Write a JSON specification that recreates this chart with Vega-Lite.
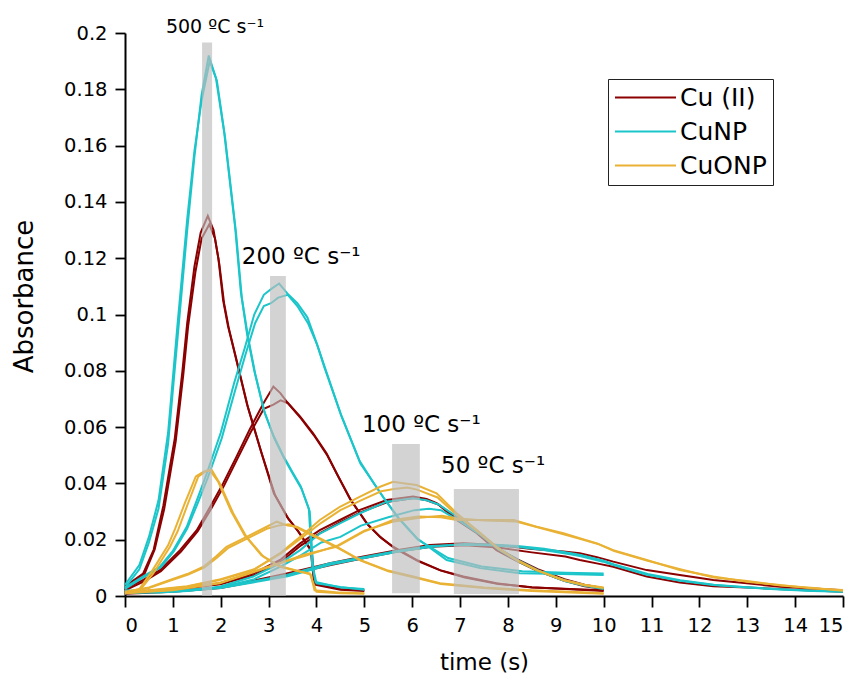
{
"$schema":"https://vega.github.io/schema/vega-lite/v6.json",
"width":718,"height":563,
"autosize":{"type":"none"},
"padding":{"left":125,"top":33,"right":15,"bottom":82},
"background":"white",
"config":{"view":{"stroke":null},"font":"DejaVu Sans",
 "axis":{"grid":false,"domainColor":"black","domainWidth":2,"tickColor":"black","tickWidth":1.8,"labelColor":"black","labelFont":"DejaVu Sans","labelFontSize":19.5,"titleFont":"DejaVu Sans","titleFontSize":23,"titleFontWeight":"normal","titleColor":"black","labelOverlap":false}},
"datasets":{
"bars":[{"x0":1.61,"x1":1.82,"y0":0,"y1":0.1966},{"x0":3.03,"x1":3.36,"y0":0,"y1":0.1137},{"x0":5.58,"x1":6.16,"y0":0.001,"y1":0.054},{"x0":6.87,"x1":8.23,"y0":0.0007,"y1":0.038}],
"big":[{"label":"200 ºC s⁻¹","t":3.68,"a":0.1204},{"label":"100 ºC s⁻¹","t":6.19,"a":0.0607},{"label":"50 ºC s⁻¹","t":7.69,"a":0.0462}],
"small":[{"label":"500 ºC s⁻¹","t":1.88,"a":0.2021}],
"curves":[
{"material":"Cu (II)","run":"C500a","t":0,"a":0.003},{"material":"Cu (II)","run":"C500a","t":0.1,"a":0.0046},{"material":"Cu (II)","run":"C500a","t":0.38,"a":0.008},{"material":"Cu (II)","run":"C500a","t":0.6,"a":0.0165},{"material":"Cu (II)","run":"C500a","t":0.8,"a":0.032},{"material":"Cu (II)","run":"C500a","t":0.94,"a":0.046},{"material":"Cu (II)","run":"C500a","t":1.04,"a":0.056},{"material":"Cu (II)","run":"C500a","t":1.2,"a":0.08},{"material":"Cu (II)","run":"C500a","t":1.3,"a":0.097},{"material":"Cu (II)","run":"C500a","t":1.45,"a":0.117},{"material":"Cu (II)","run":"C500a","t":1.58,"a":0.129},{"material":"Cu (II)","run":"C500a","t":1.73,"a":0.135},{"material":"Cu (II)","run":"C500a","t":1.85,"a":0.13},{"material":"Cu (II)","run":"C500a","t":1.95,"a":0.12},{"material":"Cu (II)","run":"C500a","t":2.05,"a":0.105},{"material":"Cu (II)","run":"C500a","t":2.15,"a":0.096},{"material":"Cu (II)","run":"C500a","t":2.28,"a":0.087},{"material":"Cu (II)","run":"C500a","t":2.55,"a":0.068},{"material":"Cu (II)","run":"C500a","t":2.83,"a":0.052},{"material":"Cu (II)","run":"C500a","t":3.11,"a":0.0365},{"material":"Cu (II)","run":"C500a","t":3.39,"a":0.028},{"material":"Cu (II)","run":"C500a","t":3.6,"a":0.0234},{"material":"Cu (II)","run":"C500a","t":3.88,"a":0.0163},{"material":"Cu (II)","run":"C500a","t":3.95,"a":0.0045},{"material":"Cu (II)","run":"C500a","t":4.5,"a":0.0025},{"material":"Cu (II)","run":"C500a","t":5,"a":0.002},
{"material":"Cu (II)","run":"C500b","t":0,"a":0.002},{"material":"Cu (II)","run":"C500b","t":0.1,"a":0.0038},{"material":"Cu (II)","run":"C500b","t":0.4,"a":0.0075},{"material":"Cu (II)","run":"C500b","t":0.62,"a":0.0165},{"material":"Cu (II)","run":"C500b","t":0.82,"a":0.031},{"material":"Cu (II)","run":"C500b","t":0.96,"a":0.045},{"material":"Cu (II)","run":"C500b","t":1.06,"a":0.055},{"material":"Cu (II)","run":"C500b","t":1.22,"a":0.079},{"material":"Cu (II)","run":"C500b","t":1.32,"a":0.096},{"material":"Cu (II)","run":"C500b","t":1.47,"a":0.115},{"material":"Cu (II)","run":"C500b","t":1.6,"a":0.127},{"material":"Cu (II)","run":"C500b","t":1.76,"a":0.132},{"material":"Cu (II)","run":"C500b","t":1.88,"a":0.127},{"material":"Cu (II)","run":"C500b","t":1.97,"a":0.118},{"material":"Cu (II)","run":"C500b","t":2.07,"a":0.104},{"material":"Cu (II)","run":"C500b","t":2.17,"a":0.095},{"material":"Cu (II)","run":"C500b","t":2.3,"a":0.086},{"material":"Cu (II)","run":"C500b","t":2.57,"a":0.067},{"material":"Cu (II)","run":"C500b","t":2.85,"a":0.051},{"material":"Cu (II)","run":"C500b","t":3.13,"a":0.036},{"material":"Cu (II)","run":"C500b","t":3.41,"a":0.0275},{"material":"Cu (II)","run":"C500b","t":3.62,"a":0.023},{"material":"Cu (II)","run":"C500b","t":3.9,"a":0.016},{"material":"Cu (II)","run":"C500b","t":3.97,"a":0.004},{"material":"Cu (II)","run":"C500b","t":4.5,"a":0.0022},{"material":"Cu (II)","run":"C500b","t":5,"a":0.0018},
{"material":"Cu (II)","run":"C200a","t":0,"a":0.0025},{"material":"Cu (II)","run":"C200a","t":0.38,"a":0.0057},{"material":"Cu (II)","run":"C200a","t":0.73,"a":0.0092},{"material":"Cu (II)","run":"C200a","t":1.15,"a":0.0163},{"material":"Cu (II)","run":"C200a","t":1.5,"a":0.0234},{"material":"Cu (II)","run":"C200a","t":1.78,"a":0.0317},{"material":"Cu (II)","run":"C200a","t":2.05,"a":0.04},{"material":"Cu (II)","run":"C200a","t":2.33,"a":0.0495},{"material":"Cu (II)","run":"C200a","t":2.6,"a":0.059},{"material":"Cu (II)","run":"C200a","t":2.89,"a":0.0684},{"material":"Cu (II)","run":"C200a","t":3.1,"a":0.0744},{"material":"Cu (II)","run":"C200a","t":3.25,"a":0.072},{"material":"Cu (II)","run":"C200a","t":3.38,"a":0.069},{"material":"Cu (II)","run":"C200a","t":3.66,"a":0.0637},{"material":"Cu (II)","run":"C200a","t":3.93,"a":0.0578},{"material":"Cu (II)","run":"C200a","t":4.21,"a":0.0507},{"material":"Cu (II)","run":"C200a","t":4.42,"a":0.0436},{"material":"Cu (II)","run":"C200a","t":4.7,"a":0.0345},{"material":"Cu (II)","run":"C200a","t":5.05,"a":0.0258},{"material":"Cu (II)","run":"C200a","t":5.33,"a":0.021},{"material":"Cu (II)","run":"C200a","t":5.6,"a":0.0175},{"material":"Cu (II)","run":"C200a","t":6.09,"a":0.0128},{"material":"Cu (II)","run":"C200a","t":6.58,"a":0.0092},{"material":"Cu (II)","run":"C200a","t":7.07,"a":0.0069},{"material":"Cu (II)","run":"C200a","t":7.76,"a":0.0045},{"material":"Cu (II)","run":"C200a","t":8.5,"a":0.003},{"material":"Cu (II)","run":"C200a","t":9.3,"a":0.0025},{"material":"Cu (II)","run":"C200a","t":10,"a":0.002},
{"material":"Cu (II)","run":"C200b","t":0,"a":0.002},{"material":"Cu (II)","run":"C200b","t":0.4,"a":0.0052},{"material":"Cu (II)","run":"C200b","t":0.75,"a":0.0088},{"material":"Cu (II)","run":"C200b","t":1.17,"a":0.0158},{"material":"Cu (II)","run":"C200b","t":1.52,"a":0.023},{"material":"Cu (II)","run":"C200b","t":1.8,"a":0.031},{"material":"Cu (II)","run":"C200b","t":2.07,"a":0.0392},{"material":"Cu (II)","run":"C200b","t":2.35,"a":0.0488},{"material":"Cu (II)","run":"C200b","t":2.62,"a":0.058},{"material":"Cu (II)","run":"C200b","t":2.9,"a":0.0665},{"material":"Cu (II)","run":"C200b","t":3.1,"a":0.068},{"material":"Cu (II)","run":"C200b","t":3.25,"a":0.0695},{"material":"Cu (II)","run":"C200b","t":3.4,"a":0.0685},{"material":"Cu (II)","run":"C200b","t":3.68,"a":0.063},{"material":"Cu (II)","run":"C200b","t":3.95,"a":0.057},{"material":"Cu (II)","run":"C200b","t":4.23,"a":0.0498},{"material":"Cu (II)","run":"C200b","t":4.45,"a":0.0426},{"material":"Cu (II)","run":"C200b","t":4.73,"a":0.0338},{"material":"Cu (II)","run":"C200b","t":5.08,"a":0.0252},{"material":"Cu (II)","run":"C200b","t":5.36,"a":0.0205},{"material":"Cu (II)","run":"C200b","t":5.63,"a":0.017},{"material":"Cu (II)","run":"C200b","t":6.12,"a":0.0124},{"material":"Cu (II)","run":"C200b","t":6.6,"a":0.009},{"material":"Cu (II)","run":"C200b","t":7.1,"a":0.0066},{"material":"Cu (II)","run":"C200b","t":7.8,"a":0.0043},{"material":"Cu (II)","run":"C200b","t":8.5,"a":0.0031},{"material":"Cu (II)","run":"C200b","t":9.3,"a":0.0024},{"material":"Cu (II)","run":"C200b","t":10,"a":0.0018},
{"material":"Cu (II)","run":"C100a","t":0,"a":0.0015},{"material":"Cu (II)","run":"C100a","t":0.7,"a":0.002},{"material":"Cu (II)","run":"C100a","t":1.3,"a":0.003},{"material":"Cu (II)","run":"C100a","t":1.98,"a":0.0045},{"material":"Cu (II)","run":"C100a","t":2.68,"a":0.008},{"material":"Cu (II)","run":"C100a","t":3.24,"a":0.0128},{"material":"Cu (II)","run":"C100a","t":3.66,"a":0.0187},{"material":"Cu (II)","run":"C100a","t":4.07,"a":0.0234},{"material":"Cu (II)","run":"C100a","t":4.49,"a":0.027},{"material":"Cu (II)","run":"C100a","t":4.91,"a":0.0306},{"material":"Cu (II)","run":"C100a","t":5.47,"a":0.0341},{"material":"Cu (II)","run":"C100a","t":6.02,"a":0.0353},{"material":"Cu (II)","run":"C100a","t":6.3,"a":0.0345},{"material":"Cu (II)","run":"C100a","t":6.51,"a":0.033},{"material":"Cu (II)","run":"C100a","t":6.93,"a":0.027},{"material":"Cu (II)","run":"C100a","t":7.35,"a":0.0223},{"material":"Cu (II)","run":"C100a","t":7.76,"a":0.0163},{"material":"Cu (II)","run":"C100a","t":8.18,"a":0.0125},{"material":"Cu (II)","run":"C100a","t":8.6,"a":0.009},{"material":"Cu (II)","run":"C100a","t":9.16,"a":0.0055},{"material":"Cu (II)","run":"C100a","t":9.6,"a":0.0035},{"material":"Cu (II)","run":"C100a","t":10,"a":0.0025},
{"material":"Cu (II)","run":"C100b","t":0,"a":0.001},{"material":"Cu (II)","run":"C100b","t":0.7,"a":0.0018},{"material":"Cu (II)","run":"C100b","t":1.3,"a":0.0028},{"material":"Cu (II)","run":"C100b","t":2,"a":0.0042},{"material":"Cu (II)","run":"C100b","t":2.7,"a":0.0075},{"material":"Cu (II)","run":"C100b","t":3.26,"a":0.0122},{"material":"Cu (II)","run":"C100b","t":3.68,"a":0.018},{"material":"Cu (II)","run":"C100b","t":4.1,"a":0.0226},{"material":"Cu (II)","run":"C100b","t":4.5,"a":0.0262},{"material":"Cu (II)","run":"C100b","t":4.93,"a":0.0298},{"material":"Cu (II)","run":"C100b","t":5.5,"a":0.0335},{"material":"Cu (II)","run":"C100b","t":6.05,"a":0.0348},{"material":"Cu (II)","run":"C100b","t":6.3,"a":0.034},{"material":"Cu (II)","run":"C100b","t":6.55,"a":0.0325},{"material":"Cu (II)","run":"C100b","t":6.95,"a":0.0275},{"material":"Cu (II)","run":"C100b","t":7.37,"a":0.0228},{"material":"Cu (II)","run":"C100b","t":7.78,"a":0.017},{"material":"Cu (II)","run":"C100b","t":8.2,"a":0.013},{"material":"Cu (II)","run":"C100b","t":8.62,"a":0.0095},{"material":"Cu (II)","run":"C100b","t":9.18,"a":0.006},{"material":"Cu (II)","run":"C100b","t":9.6,"a":0.004},{"material":"Cu (II)","run":"C100b","t":10,"a":0.0028},
{"material":"Cu (II)","run":"C50a","t":0,"a":0.001},{"material":"Cu (II)","run":"C50a","t":1,"a":0.0018},{"material":"Cu (II)","run":"C50a","t":2,"a":0.003},{"material":"Cu (II)","run":"C50a","t":3.38,"a":0.008},{"material":"Cu (II)","run":"C50a","t":4.28,"a":0.0116},{"material":"Cu (II)","run":"C50a","t":4.98,"a":0.014},{"material":"Cu (II)","run":"C50a","t":5.68,"a":0.0163},{"material":"Cu (II)","run":"C50a","t":6.37,"a":0.0181},{"material":"Cu (II)","run":"C50a","t":7.07,"a":0.0187},{"material":"Cu (II)","run":"C50a","t":7.76,"a":0.0181},{"material":"Cu (II)","run":"C50a","t":8.46,"a":0.0168},{"material":"Cu (II)","run":"C50a","t":9.16,"a":0.0158},{"material":"Cu (II)","run":"C50a","t":9.5,"a":0.0152},{"material":"Cu (II)","run":"C50a","t":9.86,"a":0.0138},{"material":"Cu (II)","run":"C50a","t":10.2,"a":0.0122},{"material":"Cu (II)","run":"C50a","t":10.9,"a":0.0092},{"material":"Cu (II)","run":"C50a","t":11.59,"a":0.0075},{"material":"Cu (II)","run":"C50a","t":12.29,"a":0.0057},{"material":"Cu (II)","run":"C50a","t":12.99,"a":0.0045},{"material":"Cu (II)","run":"C50a","t":13.68,"a":0.0033},{"material":"Cu (II)","run":"C50a","t":14.38,"a":0.0027},{"material":"Cu (II)","run":"C50a","t":15,"a":0.002},
{"material":"Cu (II)","run":"C50b","t":0,"a":0.0008},{"material":"Cu (II)","run":"C50b","t":1,"a":0.0015},{"material":"Cu (II)","run":"C50b","t":2,"a":0.0028},{"material":"Cu (II)","run":"C50b","t":3.4,"a":0.0075},{"material":"Cu (II)","run":"C50b","t":4.3,"a":0.011},{"material":"Cu (II)","run":"C50b","t":5,"a":0.0135},{"material":"Cu (II)","run":"C50b","t":5.7,"a":0.0158},{"material":"Cu (II)","run":"C50b","t":6.4,"a":0.0175},{"material":"Cu (II)","run":"C50b","t":7.1,"a":0.018},{"material":"Cu (II)","run":"C50b","t":7.8,"a":0.0172},{"material":"Cu (II)","run":"C50b","t":8.5,"a":0.0155},{"material":"Cu (II)","run":"C50b","t":9.2,"a":0.014},{"material":"Cu (II)","run":"C50b","t":9.5,"a":0.0128},{"material":"Cu (II)","run":"C50b","t":9.88,"a":0.0115},{"material":"Cu (II)","run":"C50b","t":10.2,"a":0.0104},{"material":"Cu (II)","run":"C50b","t":10.9,"a":0.0069},{"material":"Cu (II)","run":"C50b","t":11.59,"a":0.0048},{"material":"Cu (II)","run":"C50b","t":12.29,"a":0.0035},{"material":"Cu (II)","run":"C50b","t":13,"a":0.003},{"material":"Cu (II)","run":"C50b","t":14,"a":0.0022},{"material":"Cu (II)","run":"C50b","t":15,"a":0.0015},
{"material":"CuNP","run":"N500a","t":0,"a":0.003},{"material":"CuNP","run":"N500a","t":0.3,"a":0.0095},{"material":"CuNP","run":"N500a","t":0.5,"a":0.019},{"material":"CuNP","run":"N500a","t":0.7,"a":0.031},{"material":"CuNP","run":"N500a","t":0.9,"a":0.054},{"material":"CuNP","run":"N500a","t":1.1,"a":0.092},{"material":"CuNP","run":"N500a","t":1.3,"a":0.13},{"material":"CuNP","run":"N500a","t":1.45,"a":0.156},{"material":"CuNP","run":"N500a","t":1.6,"a":0.178},{"material":"CuNP","run":"N500a","t":1.75,"a":0.192},{"material":"CuNP","run":"N500a","t":1.9,"a":0.184},{"material":"CuNP","run":"N500a","t":2.07,"a":0.165},{"material":"CuNP","run":"N500a","t":2.3,"a":0.131},{"material":"CuNP","run":"N500a","t":2.42,"a":0.108},{"material":"CuNP","run":"N500a","t":2.55,"a":0.093},{"material":"CuNP","run":"N500a","t":2.7,"a":0.08},{"material":"CuNP","run":"N500a","t":2.9,"a":0.066},{"material":"CuNP","run":"N500a","t":3.1,"a":0.057},{"material":"CuNP","run":"N500a","t":3.3,"a":0.05},{"material":"CuNP","run":"N500a","t":3.5,"a":0.044},{"material":"CuNP","run":"N500a","t":3.67,"a":0.039},{"material":"CuNP","run":"N500a","t":3.84,"a":0.031},{"material":"CuNP","run":"N500a","t":3.91,"a":0.011},{"material":"CuNP","run":"N500a","t":3.98,"a":0.005},{"material":"CuNP","run":"N500a","t":4.5,"a":0.003},{"material":"CuNP","run":"N500a","t":5,"a":0.0025},
{"material":"CuNP","run":"N500b","t":0,"a":0.004},{"material":"CuNP","run":"N500b","t":0.3,"a":0.011},{"material":"CuNP","run":"N500b","t":0.5,"a":0.021},{"material":"CuNP","run":"N500b","t":0.7,"a":0.034},{"material":"CuNP","run":"N500b","t":0.9,"a":0.058},{"material":"CuNP","run":"N500b","t":1.1,"a":0.097},{"material":"CuNP","run":"N500b","t":1.3,"a":0.134},{"material":"CuNP","run":"N500b","t":1.45,"a":0.158},{"material":"CuNP","run":"N500b","t":1.6,"a":0.176},{"material":"CuNP","run":"N500b","t":1.77,"a":0.19},{"material":"CuNP","run":"N500b","t":1.92,"a":0.183},{"material":"CuNP","run":"N500b","t":2.09,"a":0.163},{"material":"CuNP","run":"N500b","t":2.32,"a":0.129},{"material":"CuNP","run":"N500b","t":2.44,"a":0.106},{"material":"CuNP","run":"N500b","t":2.57,"a":0.092},{"material":"CuNP","run":"N500b","t":2.72,"a":0.079},{"material":"CuNP","run":"N500b","t":2.92,"a":0.065},{"material":"CuNP","run":"N500b","t":3.12,"a":0.056},{"material":"CuNP","run":"N500b","t":3.32,"a":0.049},{"material":"CuNP","run":"N500b","t":3.52,"a":0.043},{"material":"CuNP","run":"N500b","t":3.69,"a":0.038},{"material":"CuNP","run":"N500b","t":3.86,"a":0.03},{"material":"CuNP","run":"N500b","t":3.93,"a":0.01},{"material":"CuNP","run":"N500b","t":4,"a":0.0045},{"material":"CuNP","run":"N500b","t":4.5,"a":0.0032},{"material":"CuNP","run":"N500b","t":5,"a":0.0022},
{"material":"CuNP","run":"N200a","t":0,"a":0.003},{"material":"CuNP","run":"N200a","t":0.38,"a":0.007},{"material":"CuNP","run":"N200a","t":0.73,"a":0.0104},{"material":"CuNP","run":"N200a","t":1,"a":0.016},{"material":"CuNP","run":"N200a","t":1.29,"a":0.0246},{"material":"CuNP","run":"N200a","t":1.5,"a":0.034},{"material":"CuNP","run":"N200a","t":1.71,"a":0.0436},{"material":"CuNP","run":"N200a","t":2,"a":0.058},{"material":"CuNP","run":"N200a","t":2.28,"a":0.0757},{"material":"CuNP","run":"N200a","t":2.5,"a":0.088},{"material":"CuNP","run":"N200a","t":2.7,"a":0.1},{"material":"CuNP","run":"N200a","t":2.9,"a":0.107},{"material":"CuNP","run":"N200a","t":3.05,"a":0.109},{"material":"CuNP","run":"N200a","t":3.22,"a":0.111},{"material":"CuNP","run":"N200a","t":3.39,"a":0.1075},{"material":"CuNP","run":"N200a","t":3.6,"a":0.104},{"material":"CuNP","run":"N200a","t":3.81,"a":0.099},{"material":"CuNP","run":"N200a","t":4,"a":0.09},{"material":"CuNP","run":"N200a","t":4.16,"a":0.0815},{"material":"CuNP","run":"N200a","t":4.5,"a":0.065},{"material":"CuNP","run":"N200a","t":4.9,"a":0.048},{"material":"CuNP","run":"N200a","t":5.2,"a":0.04},{"material":"CuNP","run":"N200a","t":5.4,"a":0.035},{"material":"CuNP","run":"N200a","t":5.7,"a":0.028},{"material":"CuNP","run":"N200a","t":6.1,"a":0.0205},{"material":"CuNP","run":"N200a","t":6.72,"a":0.0128},{"material":"CuNP","run":"N200a","t":7.42,"a":0.0099},{"material":"CuNP","run":"N200a","t":8.25,"a":0.0081},{"material":"CuNP","run":"N200a","t":9.15,"a":0.0078},{"material":"CuNP","run":"N200a","t":10,"a":0.0075},
{"material":"CuNP","run":"N200b","t":0,"a":0.0025},{"material":"CuNP","run":"N200b","t":0.4,"a":0.0068},{"material":"CuNP","run":"N200b","t":0.75,"a":0.0102},{"material":"CuNP","run":"N200b","t":1.02,"a":0.0158},{"material":"CuNP","run":"N200b","t":1.3,"a":0.024},{"material":"CuNP","run":"N200b","t":1.52,"a":0.033},{"material":"CuNP","run":"N200b","t":1.73,"a":0.042},{"material":"CuNP","run":"N200b","t":2.02,"a":0.056},{"material":"CuNP","run":"N200b","t":2.3,"a":0.073},{"material":"CuNP","run":"N200b","t":2.52,"a":0.086},{"material":"CuNP","run":"N200b","t":2.72,"a":0.097},{"material":"CuNP","run":"N200b","t":2.9,"a":0.103},{"material":"CuNP","run":"N200b","t":3.05,"a":0.104},{"material":"CuNP","run":"N200b","t":3.2,"a":0.106},{"material":"CuNP","run":"N200b","t":3.4,"a":0.107},{"material":"CuNP","run":"N200b","t":3.6,"a":0.103},{"material":"CuNP","run":"N200b","t":3.82,"a":0.097},{"material":"CuNP","run":"N200b","t":4.02,"a":0.089},{"material":"CuNP","run":"N200b","t":4.2,"a":0.08},{"material":"CuNP","run":"N200b","t":4.52,"a":0.064},{"material":"CuNP","run":"N200b","t":4.92,"a":0.047},{"material":"CuNP","run":"N200b","t":5.22,"a":0.0395},{"material":"CuNP","run":"N200b","t":5.42,"a":0.0345},{"material":"CuNP","run":"N200b","t":5.72,"a":0.0275},{"material":"CuNP","run":"N200b","t":6.12,"a":0.02},{"material":"CuNP","run":"N200b","t":6.75,"a":0.0135},{"material":"CuNP","run":"N200b","t":7.45,"a":0.0105},{"material":"CuNP","run":"N200b","t":8.3,"a":0.0088},{"material":"CuNP","run":"N200b","t":9.2,"a":0.0083},{"material":"CuNP","run":"N200b","t":10,"a":0.008},
{"material":"CuNP","run":"N100a","t":0,"a":0.002},{"material":"CuNP","run":"N100a","t":0.7,"a":0.0015},{"material":"CuNP","run":"N100a","t":1.3,"a":0.002},{"material":"CuNP","run":"N100a","t":1.98,"a":0.0033},{"material":"CuNP","run":"N100a","t":2.68,"a":0.0069},{"material":"CuNP","run":"N100a","t":3.24,"a":0.0116},{"material":"CuNP","run":"N100a","t":3.66,"a":0.0163},{"material":"CuNP","run":"N100a","t":4.07,"a":0.0222},{"material":"CuNP","run":"N100a","t":4.49,"a":0.0258},{"material":"CuNP","run":"N100a","t":4.91,"a":0.0294},{"material":"CuNP","run":"N100a","t":5.47,"a":0.0335},{"material":"CuNP","run":"N100a","t":6.02,"a":0.0347},{"material":"CuNP","run":"N100a","t":6.3,"a":0.034},{"material":"CuNP","run":"N100a","t":6.55,"a":0.0325},{"material":"CuNP","run":"N100a","t":6.95,"a":0.028},{"material":"CuNP","run":"N100a","t":7.37,"a":0.023},{"material":"CuNP","run":"N100a","t":7.78,"a":0.0172},{"material":"CuNP","run":"N100a","t":8.2,"a":0.0128},{"material":"CuNP","run":"N100a","t":8.62,"a":0.0092},{"material":"CuNP","run":"N100a","t":9.18,"a":0.0056},{"material":"CuNP","run":"N100a","t":9.6,"a":0.0038},{"material":"CuNP","run":"N100a","t":10,"a":0.0028},
{"material":"CuNP","run":"N100b","t":0,"a":0.0015},{"material":"CuNP","run":"N100b","t":0.7,"a":0.0012},{"material":"CuNP","run":"N100b","t":1.3,"a":0.0018},{"material":"CuNP","run":"N100b","t":2,"a":0.003},{"material":"CuNP","run":"N100b","t":2.7,"a":0.006},{"material":"CuNP","run":"N100b","t":3.26,"a":0.0105},{"material":"CuNP","run":"N100b","t":3.68,"a":0.0145},{"material":"CuNP","run":"N100b","t":4.1,"a":0.019},{"material":"CuNP","run":"N100b","t":4.5,"a":0.021},{"material":"CuNP","run":"N100b","t":4.93,"a":0.025},{"material":"CuNP","run":"N100b","t":5.5,"a":0.028},{"material":"CuNP","run":"N100b","t":6.05,"a":0.0305},{"material":"CuNP","run":"N100b","t":6.35,"a":0.031},{"material":"CuNP","run":"N100b","t":6.6,"a":0.0305},{"material":"CuNP","run":"N100b","t":7,"a":0.0265},{"material":"CuNP","run":"N100b","t":7.4,"a":0.022},{"material":"CuNP","run":"N100b","t":7.8,"a":0.0165},{"material":"CuNP","run":"N100b","t":8.22,"a":0.0122},{"material":"CuNP","run":"N100b","t":8.65,"a":0.0088},{"material":"CuNP","run":"N100b","t":9.2,"a":0.0052},{"material":"CuNP","run":"N100b","t":9.6,"a":0.0036},{"material":"CuNP","run":"N100b","t":10,"a":0.0025},
{"material":"CuNP","run":"N50a","t":0,"a":0.0015},{"material":"CuNP","run":"N50a","t":1,"a":0.0018},{"material":"CuNP","run":"N50a","t":2,"a":0.003},{"material":"CuNP","run":"N50a","t":3.38,"a":0.0075},{"material":"CuNP","run":"N50a","t":4.28,"a":0.0116},{"material":"CuNP","run":"N50a","t":4.98,"a":0.0138},{"material":"CuNP","run":"N50a","t":5.68,"a":0.016},{"material":"CuNP","run":"N50a","t":6.37,"a":0.0178},{"material":"CuNP","run":"N50a","t":7.07,"a":0.0182},{"material":"CuNP","run":"N50a","t":7.6,"a":0.018},{"material":"CuNP","run":"N50a","t":8.18,"a":0.0175},{"material":"CuNP","run":"N50a","t":8.74,"a":0.0163},{"material":"CuNP","run":"N50a","t":9.3,"a":0.0148},{"material":"CuNP","run":"N50a","t":9.5,"a":0.0142},{"material":"CuNP","run":"N50a","t":9.99,"a":0.0122},{"material":"CuNP","run":"N50a","t":10.2,"a":0.011},{"material":"CuNP","run":"N50a","t":10.9,"a":0.0075},{"material":"CuNP","run":"N50a","t":11.59,"a":0.0054},{"material":"CuNP","run":"N50a","t":12.29,"a":0.0039},{"material":"CuNP","run":"N50a","t":12.99,"a":0.003},{"material":"CuNP","run":"N50a","t":13.68,"a":0.0023},{"material":"CuNP","run":"N50a","t":14.38,"a":0.0018},{"material":"CuNP","run":"N50a","t":15,"a":0.0015},
{"material":"CuNP","run":"N50b","t":0,"a":0.001},{"material":"CuNP","run":"N50b","t":1,"a":0.0015},{"material":"CuNP","run":"N50b","t":2,"a":0.0028},{"material":"CuNP","run":"N50b","t":3.4,"a":0.007},{"material":"CuNP","run":"N50b","t":4.3,"a":0.0112},{"material":"CuNP","run":"N50b","t":5,"a":0.0135},{"material":"CuNP","run":"N50b","t":5.7,"a":0.0157},{"material":"CuNP","run":"N50b","t":6.4,"a":0.0175},{"material":"CuNP","run":"N50b","t":7.1,"a":0.0185},{"material":"CuNP","run":"N50b","t":7.62,"a":0.0183},{"material":"CuNP","run":"N50b","t":8.2,"a":0.0178},{"material":"CuNP","run":"N50b","t":8.76,"a":0.0168},{"material":"CuNP","run":"N50b","t":9.32,"a":0.0152},{"material":"CuNP","run":"N50b","t":9.52,"a":0.0146},{"material":"CuNP","run":"N50b","t":10,"a":0.0125},{"material":"CuNP","run":"N50b","t":10.22,"a":0.0112},{"material":"CuNP","run":"N50b","t":10.92,"a":0.0078},{"material":"CuNP","run":"N50b","t":11.6,"a":0.0056},{"material":"CuNP","run":"N50b","t":12.3,"a":0.004},{"material":"CuNP","run":"N50b","t":13,"a":0.0031},{"material":"CuNP","run":"N50b","t":13.7,"a":0.0024},{"material":"CuNP","run":"N50b","t":14.4,"a":0.0019},{"material":"CuNP","run":"N50b","t":15,"a":0.0016},
{"material":"CuONP","run":"O500a","t":0,"a":0.001},{"material":"CuONP","run":"O500a","t":0.31,"a":0.002},{"material":"CuONP","run":"O500a","t":0.59,"a":0.008},{"material":"CuONP","run":"O500a","t":0.94,"a":0.0175},{"material":"CuONP","run":"O500a","t":1.1,"a":0.023},{"material":"CuONP","run":"O500a","t":1.29,"a":0.0317},{"material":"CuONP","run":"O500a","t":1.53,"a":0.0424},{"material":"CuONP","run":"O500a","t":1.7,"a":0.0445},{"material":"CuONP","run":"O500a","t":1.81,"a":0.0448},{"material":"CuONP","run":"O500a","t":1.98,"a":0.04},{"material":"CuONP","run":"O500a","t":2.26,"a":0.0294},{"material":"CuONP","run":"O500a","t":2.54,"a":0.021},{"material":"CuONP","run":"O500a","t":2.89,"a":0.014},{"material":"CuONP","run":"O500a","t":3.24,"a":0.0104},{"material":"CuONP","run":"O500a","t":3.66,"a":0.0086},{"material":"CuONP","run":"O500a","t":3.86,"a":0.008},{"material":"CuONP","run":"O500a","t":4,"a":0.0015},{"material":"CuONP","run":"O500a","t":4.5,"a":0.001},{"material":"CuONP","run":"O500a","t":5,"a":0.0008},
{"material":"CuONP","run":"O500b","t":0,"a":0.0012},{"material":"CuONP","run":"O500b","t":0.3,"a":0.0025},{"material":"CuONP","run":"O500b","t":0.55,"a":0.0085},{"material":"CuONP","run":"O500b","t":0.9,"a":0.018},{"material":"CuONP","run":"O500b","t":1.05,"a":0.024},{"material":"CuONP","run":"O500b","t":1.25,"a":0.033},{"material":"CuONP","run":"O500b","t":1.48,"a":0.0425},{"material":"CuONP","run":"O500b","t":1.65,"a":0.0442},{"material":"CuONP","run":"O500b","t":1.78,"a":0.0445},{"material":"CuONP","run":"O500b","t":1.95,"a":0.0405},{"material":"CuONP","run":"O500b","t":2.22,"a":0.03},{"material":"CuONP","run":"O500b","t":2.5,"a":0.0215},{"material":"CuONP","run":"O500b","t":2.85,"a":0.0145},{"material":"CuONP","run":"O500b","t":3.2,"a":0.0108},{"material":"CuONP","run":"O500b","t":3.6,"a":0.009},{"material":"CuONP","run":"O500b","t":3.88,"a":0.0076},{"material":"CuONP","run":"O500b","t":3.96,"a":0.002},{"material":"CuONP","run":"O500b","t":4.5,"a":0.0012},{"material":"CuONP","run":"O500b","t":5,"a":0.001},
{"material":"CuONP","run":"O200a","t":0,"a":0.0015},{"material":"CuONP","run":"O200a","t":0.5,"a":0.003},{"material":"CuONP","run":"O200a","t":0.94,"a":0.0057},{"material":"CuONP","run":"O200a","t":1.3,"a":0.0078},{"material":"CuONP","run":"O200a","t":1.64,"a":0.0104},{"material":"CuONP","run":"O200a","t":1.9,"a":0.014},{"material":"CuONP","run":"O200a","t":2.12,"a":0.0175},{"material":"CuONP","run":"O200a","t":2.54,"a":0.021},{"material":"CuONP","run":"O200a","t":2.96,"a":0.0246},{"material":"CuONP","run":"O200a","t":3.17,"a":0.0264},{"material":"CuONP","run":"O200a","t":3.4,"a":0.025},{"material":"CuONP","run":"O200a","t":3.59,"a":0.0246},{"material":"CuONP","run":"O200a","t":3.93,"a":0.0217},{"material":"CuONP","run":"O200a","t":4.42,"a":0.0175},{"material":"CuONP","run":"O200a","t":4.91,"a":0.0128},{"material":"CuONP","run":"O200a","t":5.47,"a":0.0092},{"material":"CuONP","run":"O200a","t":6.02,"a":0.0069},{"material":"CuONP","run":"O200a","t":6.58,"a":0.0045},{"material":"CuONP","run":"O200a","t":7.5,"a":0.003},{"material":"CuONP","run":"O200a","t":8.5,"a":0.002},{"material":"CuONP","run":"O200a","t":9.3,"a":0.0015},{"material":"CuONP","run":"O200a","t":10,"a":0.001},
{"material":"CuONP","run":"O200b","t":0,"a":0.001},{"material":"CuONP","run":"O200b","t":0.5,"a":0.0028},{"material":"CuONP","run":"O200b","t":0.95,"a":0.0055},{"material":"CuONP","run":"O200b","t":1.32,"a":0.0076},{"material":"CuONP","run":"O200b","t":1.66,"a":0.0102},{"material":"CuONP","run":"O200b","t":1.92,"a":0.0136},{"material":"CuONP","run":"O200b","t":2.15,"a":0.017},{"material":"CuONP","run":"O200b","t":2.56,"a":0.0205},{"material":"CuONP","run":"O200b","t":2.98,"a":0.024},{"material":"CuONP","run":"O200b","t":3.2,"a":0.025},{"material":"CuONP","run":"O200b","t":3.42,"a":0.0255},{"material":"CuONP","run":"O200b","t":3.6,"a":0.0242},{"material":"CuONP","run":"O200b","t":3.95,"a":0.0212},{"material":"CuONP","run":"O200b","t":4.45,"a":0.017},{"material":"CuONP","run":"O200b","t":4.94,"a":0.0125},{"material":"CuONP","run":"O200b","t":5.5,"a":0.0088},{"material":"CuONP","run":"O200b","t":6.05,"a":0.0066},{"material":"CuONP","run":"O200b","t":6.6,"a":0.0043},{"material":"CuONP","run":"O200b","t":7.5,"a":0.0028},{"material":"CuONP","run":"O200b","t":8.5,"a":0.0018},{"material":"CuONP","run":"O200b","t":9.3,"a":0.0012},{"material":"CuONP","run":"O200b","t":10,"a":0.0008},
{"material":"CuONP","run":"O100a","t":0,"a":0.001},{"material":"CuONP","run":"O100a","t":0.6,"a":0.002},{"material":"CuONP","run":"O100a","t":1.29,"a":0.0033},{"material":"CuONP","run":"O100a","t":1.98,"a":0.0057},{"material":"CuONP","run":"O100a","t":2.68,"a":0.0092},{"material":"CuONP","run":"O100a","t":3.24,"a":0.0152},{"material":"CuONP","run":"O100a","t":3.66,"a":0.021},{"material":"CuONP","run":"O100a","t":4.07,"a":0.027},{"material":"CuONP","run":"O100a","t":4.49,"a":0.0317},{"material":"CuONP","run":"O100a","t":4.91,"a":0.0353},{"material":"CuONP","run":"O100a","t":5.33,"a":0.0388},{"material":"CuONP","run":"O100a","t":5.6,"a":0.0406},{"material":"CuONP","run":"O100a","t":5.85,"a":0.04},{"material":"CuONP","run":"O100a","t":6.09,"a":0.0394},{"material":"CuONP","run":"O100a","t":6.51,"a":0.0365},{"material":"CuONP","run":"O100a","t":6.93,"a":0.0294},{"material":"CuONP","run":"O100a","t":7.35,"a":0.0234},{"material":"CuONP","run":"O100a","t":7.76,"a":0.0175},{"material":"CuONP","run":"O100a","t":8.18,"a":0.0128},{"material":"CuONP","run":"O100a","t":8.6,"a":0.0092},{"material":"CuONP","run":"O100a","t":9.16,"a":0.0057},{"material":"CuONP","run":"O100a","t":9.6,"a":0.004},{"material":"CuONP","run":"O100a","t":10,"a":0.003},
{"material":"CuONP","run":"O100b","t":0,"a":0.0012},{"material":"CuONP","run":"O100b","t":0.6,"a":0.0022},{"material":"CuONP","run":"O100b","t":1.3,"a":0.0035},{"material":"CuONP","run":"O100b","t":2,"a":0.006},{"material":"CuONP","run":"O100b","t":2.7,"a":0.0095},{"material":"CuONP","run":"O100b","t":3.25,"a":0.015},{"material":"CuONP","run":"O100b","t":3.68,"a":0.0205},{"material":"CuONP","run":"O100b","t":4.1,"a":0.026},{"material":"CuONP","run":"O100b","t":4.5,"a":0.0305},{"material":"CuONP","run":"O100b","t":4.93,"a":0.034},{"material":"CuONP","run":"O100b","t":5.35,"a":0.0372},{"material":"CuONP","run":"O100b","t":5.62,"a":0.038},{"material":"CuONP","run":"O100b","t":5.9,"a":0.0385},{"material":"CuONP","run":"O100b","t":6.1,"a":0.0378},{"material":"CuONP","run":"O100b","t":6.53,"a":0.035},{"material":"CuONP","run":"O100b","t":6.95,"a":0.0285},{"material":"CuONP","run":"O100b","t":7.37,"a":0.0228},{"material":"CuONP","run":"O100b","t":7.78,"a":0.017},{"material":"CuONP","run":"O100b","t":8.2,"a":0.0125},{"material":"CuONP","run":"O100b","t":8.62,"a":0.009},{"material":"CuONP","run":"O100b","t":9.18,"a":0.0055},{"material":"CuONP","run":"O100b","t":9.6,"a":0.0038},{"material":"CuONP","run":"O100b","t":10,"a":0.0028},
{"material":"CuONP","run":"O50a","t":0,"a":0.001},{"material":"CuONP","run":"O50a","t":1,"a":0.002},{"material":"CuONP","run":"O50a","t":1.98,"a":0.0045},{"material":"CuONP","run":"O50a","t":3.03,"a":0.0104},{"material":"CuONP","run":"O50a","t":3.72,"a":0.0146},{"material":"CuONP","run":"O50a","t":4.42,"a":0.0175},{"material":"CuONP","run":"O50a","t":4.98,"a":0.0228},{"material":"CuONP","run":"O50a","t":5.6,"a":0.027},{"material":"CuONP","run":"O50a","t":6.13,"a":0.0282},{"material":"CuONP","run":"O50a","t":6.6,"a":0.028},{"material":"CuONP","run":"O50a","t":6.93,"a":0.027},{"material":"CuONP","run":"O50a","t":7.5,"a":0.027},{"material":"CuONP","run":"O50a","t":8.12,"a":0.027},{"material":"CuONP","run":"O50a","t":8.6,"a":0.0246},{"material":"CuONP","run":"O50a","t":9.16,"a":0.0223},{"material":"CuONP","run":"O50a","t":9.5,"a":0.0205},{"material":"CuONP","run":"O50a","t":9.86,"a":0.0187},{"material":"CuONP","run":"O50a","t":10.2,"a":0.0163},{"material":"CuONP","run":"O50a","t":10.9,"a":0.0128},{"material":"CuONP","run":"O50a","t":11.59,"a":0.0092},{"material":"CuONP","run":"O50a","t":12.29,"a":0.0069},{"material":"CuONP","run":"O50a","t":12.99,"a":0.0051},{"material":"CuONP","run":"O50a","t":13.68,"a":0.0039},{"material":"CuONP","run":"O50a","t":14.38,"a":0.0027},{"material":"CuONP","run":"O50a","t":15,"a":0.0021},
{"material":"CuONP","run":"O50b","t":0,"a":0.0012},{"material":"CuONP","run":"O50b","t":1,"a":0.0022},{"material":"CuONP","run":"O50b","t":2,"a":0.0048},{"material":"CuONP","run":"O50b","t":3.05,"a":0.0108},{"material":"CuONP","run":"O50b","t":3.75,"a":0.0142},{"material":"CuONP","run":"O50b","t":4.45,"a":0.018},{"material":"CuONP","run":"O50b","t":5,"a":0.0232},{"material":"CuONP","run":"O50b","t":5.62,"a":0.0265},{"material":"CuONP","run":"O50b","t":6.15,"a":0.0278},{"material":"CuONP","run":"O50b","t":6.62,"a":0.0285},{"material":"CuONP","run":"O50b","t":6.95,"a":0.0275},{"material":"CuONP","run":"O50b","t":7.52,"a":0.0268},{"material":"CuONP","run":"O50b","t":8.15,"a":0.0265},{"material":"CuONP","run":"O50b","t":8.62,"a":0.0244},{"material":"CuONP","run":"O50b","t":9.18,"a":0.0218},{"material":"CuONP","run":"O50b","t":9.52,"a":0.0202},{"material":"CuONP","run":"O50b","t":9.88,"a":0.0185},{"material":"CuONP","run":"O50b","t":10.22,"a":0.016},{"material":"CuONP","run":"O50b","t":10.92,"a":0.0125},{"material":"CuONP","run":"O50b","t":11.6,"a":0.0095},{"material":"CuONP","run":"O50b","t":12.3,"a":0.0066},{"material":"CuONP","run":"O50b","t":13,"a":0.0053},{"material":"CuONP","run":"O50b","t":13.7,"a":0.0037},{"material":"CuONP","run":"O50b","t":14.4,"a":0.0028},{"material":"CuONP","run":"O50b","t":15,"a":0.0019}
]},
"layer":[
{"data":{"name":"curves"},
 "mark":{"type":"line","strokeWidth":2},
 "encoding":{
  "x":{"field":"t","type":"quantitative","title":"time (s)","scale":{"domain":[0,15],"nice":false,"zero":false},
   "axis":{"values":[0,0.5,1,1.5,2,2.5,3,3.5,4,4.5,5,5.5,6,6.5,7,7.5,8,8.5,9,9.5,10,10.5,11,11.5,12,12.5,13,13.5,14,14.5,15],
    "labelExpr":"datum.value % 1 === 0 ? format(datum.value, 'd') : ''",
    "tickSize":{"condition":{"test":"datum.value % 1 !== 0","value":6},"value":11},
    "labelPadding":9,"titlePadding":17}},
  "y":{"field":"a","type":"quantitative","title":"Absorbance","scale":{"domain":[0,0.2],"nice":false},
   "axis":{"values":[0,0.01,0.02,0.03,0.04,0.05,0.06,0.07,0.08,0.09,0.1,0.11,0.12,0.13,0.14,0.15,0.16,0.17,0.18,0.19,0.2],
    "labelExpr":"round(datum.value*100) % 2 === 1 ? '' : format(datum.value, '~g')",
    "tickSize":{"condition":{"test":"round(datum.value*100) % 2 === 1","value":6},"value":10},
    "labelPadding":8,"titlePadding":26,"titleFontSize":26,"titleY":263}},
  "color":{"field":"material","type":"nominal","scale":{"domain":["Cu (II)","CuNP","CuONP"],"range":["#8B0000","#1BC5C9","#E9B234"]},
   "legend":{"title":null,"orient":"none","legendX":483,"legendY":46,"symbolType":"M-3.05,0H3.05","symbolSize":400,"symbolStrokeWidth":2.2,"labelFontSize":25,"labelFont":"DejaVu Sans","labelColor":"black","strokeColor":"#222","padding":6,"rowPadding":8,"symbolOffset":19,"labelOffset":22}},
  "detail":{"field":"run","type":"nominal"}}},
{"data":{"name":"bars"},
 "mark":{"type":"rect","color":"#bcbcbc","opacity":0.66},
 "encoding":{"x":{"field":"x0","type":"quantitative","title":"time (s)"},"x2":{"field":"x1"},"y":{"field":"y0","type":"quantitative","title":"Absorbance"},"y2":{"field":"y1"}}},
{"data":{"name":"big"},
 "mark":{"type":"text","fontSize":23,"font":"DejaVu Sans","color":"black","align":"center","baseline":"middle","clip":false},
 "encoding":{"x":{"field":"t","type":"quantitative","title":"time (s)"},"y":{"field":"a","type":"quantitative","title":"Absorbance"},"text":{"field":"label"}}},
{"data":{"name":"small"},
 "mark":{"type":"text","fontSize":19,"font":"DejaVu Sans","color":"black","align":"center","baseline":"middle","clip":false},
 "encoding":{"x":{"field":"t","type":"quantitative","title":"time (s)"},"y":{"field":"a","type":"quantitative","title":"Absorbance"},"text":{"field":"label"}}}
]
}
